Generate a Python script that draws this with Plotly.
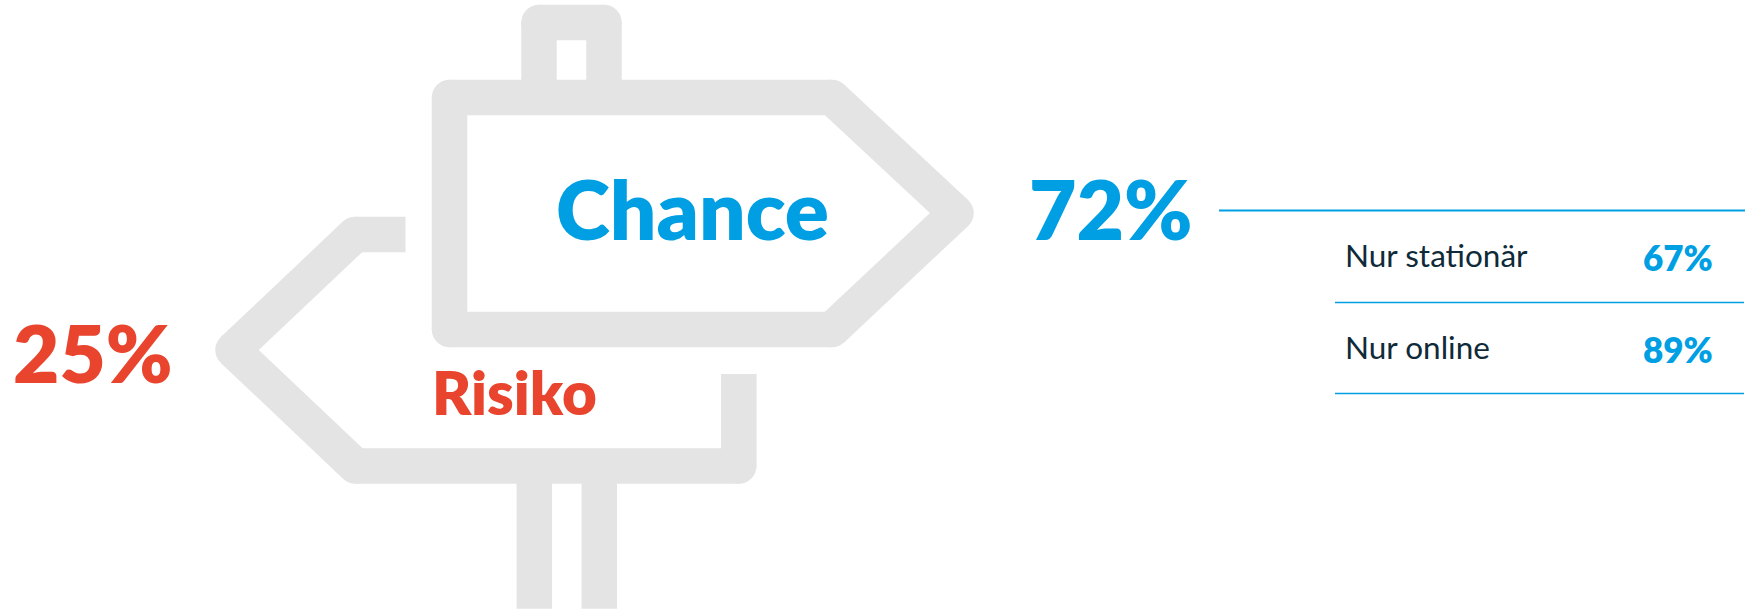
import plotly.graph_objects as go

# --- data ---
main_labels = ["Chance", "Risiko"]
main_values = [72, 25]
sub_labels = ["Nur stationär", "Nur online"]
sub_values = [67, 89]

BLUE = "#009FE3"
RED = "#E9442E"
GREY = "#E4E4E4"
DARK = "#0F2A38"
STROKE = 35.5
FONT = "Lato"

# --- signpost pictogram outlines (pixel-like axis units) ---
upper_x = [449.5, 832, 956, 832, 449.5, 449.5]
upper_y = [97.5, 97.5, 213, 329.5, 329.5, 97.5]
stub_x = [539, 539, 604, 604]
stub_y = [97, 22.5, 22.5, 97]
lower_x = [405.5, 355, 233, 355.5, 738.8, 738.8]
lower_y = [234.5, 234.5, 350, 466, 466, 374]
post1_x = [534.3, 534.3]
post2_x = [599.3, 599.3]
post_y = [466, 608.7]

fig = go.Figure()


def stroke(xs, ys, width=STROKE, color=GREY, closed=False):
    seg_x, seg_y = [], []
    for i in range(len(xs) - 1):
        seg_x += [xs[i], xs[i + 1], None]
        seg_y += [ys[i], ys[i + 1], None]
    fig.add_trace(go.Scatter(x=seg_x, y=seg_y, mode="lines", hoverinfo="skip",
                             line=dict(color=color, width=width)))
    jx = xs[:-1] if closed else xs[1:-1]
    jy = ys[:-1] if closed else ys[1:-1]
    if jx:
        fig.add_trace(go.Scatter(x=jx, y=jy, mode="markers", hoverinfo="skip",
                                 marker=dict(color=color, size=width, line=dict(width=0))))


stroke(post1_x, post_y)
stroke(post2_x, post_y)
stroke(lower_x, lower_y)
stroke(stub_x, stub_y)
stroke(upper_x, upper_y, closed=True)

# rules of the small table
stroke([1219, 1745], [210.5, 210.5], 2, BLUE)
stroke([1335, 1744], [302.5, 302.5], 1.3, BLUE)
stroke([1335, 1744], [393.5, 393.5], 1.5, BLUE)


def label(text, x, y, size, color, anchor="center", weight=800):
    fig.add_annotation(x=x, y=y, text=text, showarrow=False, xanchor=anchor,
                       yanchor="middle", xref="x", yref="y",
                       font=dict(family=FONT, size=size, color=color, weight=weight))


label(main_labels[0], 692, 208, 82, BLUE)
label(main_labels[1], 514, 392, 60, RED)
label(f"{main_values[0]}%", 1111, 208, 82, BLUE)
label(f"{main_values[1]}%", 93, 352, 80, RED)
label(sub_labels[0], 1343, 255, 31.5, DARK, "left", 400)
label(sub_labels[1], 1343, 347, 31.5, DARK, "left", 400)
label(f"{sub_values[0]}%", 1715, 257, 35, BLUE, "right")
label(f"{sub_values[1]}%", 1715, 349, 35, BLUE, "right")

fig.update_layout(
    width=1751, height=612, margin=dict(l=0, r=0, t=0, b=0),
    paper_bgcolor="white", plot_bgcolor="white", showlegend=False,
    xaxis=dict(range=[0, 1751], visible=False, fixedrange=True),
    yaxis=dict(range=[612, 0], visible=False, fixedrange=True),
)
fig.write_html("out.html", config={"displayModeBar": False},
               post_script="document.body.style.margin='0';")
